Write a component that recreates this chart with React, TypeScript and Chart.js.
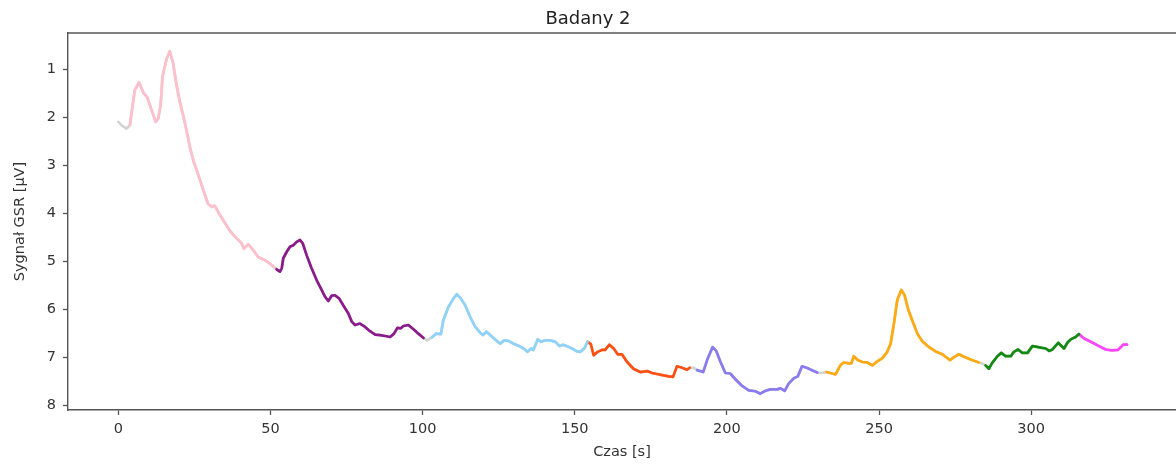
import React, { useEffect, useRef } from "react";
import { Chart, registerables } from "chart.js";

Chart.register(...registerables);

// Czas [s]
const czas: number[] = [
  0.0, 1.2, 2.7, 3.8, 4.6, 5.4, 6.8, 8.2, 9.5, 10.9, 12.3, 13.1, 13.9, 14.5, 15.9, 16.9, 18.0, 19.1, 20.2, 21.9,
  23.5, 24.6, 26.3, 27.9, 29.5, 30.7, 31.7, 33.4, 35.0, 36.7, 38.3, 40.5, 41.3, 42.7, 44.3, 46.0, 48.2, 49.8, 51.2, 52.0,
  53.1, 53.7, 54.2, 55.3, 56.4, 57.5, 58.6, 59.7, 60.6, 61.9, 63.5, 65.2, 66.8, 67.9, 69.0, 70.1, 71.2, 72.6, 73.9, 75.6,
  76.7, 77.8, 79.4, 81.1, 82.7, 84.4, 86.0, 87.7, 89.3, 90.6, 91.7, 92.8, 93.7, 95.3, 97.0, 98.6, 100.3, 101.4, 103.0, 104.4,
  106.0, 106.8, 108.5, 110.1, 111.2, 112.3, 114.0, 115.6, 117.3, 118.9, 119.8, 121.0, 122.2, 123.8, 125.5, 126.8, 128.2, 129.9, 131.5, 133.2,
  134.5, 135.6, 136.4, 137.8, 138.9, 140.3, 141.9, 143.6, 145.0, 146.1, 147.4, 149.1, 150.7, 151.8, 153.1, 154.2, 155.3, 156.2, 157.5, 158.9,
  160.0, 161.4, 162.8, 164.1, 165.5, 167.2, 169.3, 171.5, 173.8, 175.4, 177.0, 179.2, 180.9, 182.3, 183.6, 185.3, 186.9, 187.8, 189.1, 190.2,
  192.2, 193.5, 195.3, 196.5, 197.9, 199.5, 201.1, 202.8, 205.0, 207.2, 209.4, 211.0, 212.7, 214.3, 216.5, 217.6, 219.0, 220.3, 222.0, 223.3,
  224.7, 226.2, 228.0, 229.7, 231.0, 232.7, 234.0, 235.7, 237.3, 238.4, 240.1, 240.9, 241.7, 243.0, 244.5, 246.1, 247.8, 249.2, 251.1, 252.6,
  253.8, 254.9, 256.0, 257.3, 258.4, 259.5, 260.9, 262.6, 264.2, 266.4, 268.6, 270.8, 273.3, 274.9, 276.3, 277.9, 280.1, 282.8, 283.9, 285.0,
  286.1, 287.2, 288.9, 290.2, 291.6, 293.3, 294.3, 295.7, 297.1, 298.8, 300.4, 301.5, 303.1, 304.8, 305.9, 307.0, 307.8, 308.9, 309.7, 310.8,
  311.9, 313.0, 314.6, 315.7, 317.4, 319.6, 322.3, 324.5, 326.5, 328.5, 329.5, 330.2, 331.5,
];

// Sygnał GSR [µV]
const sygnal: number[] = [
  2.10, 2.18, 2.24, 2.17, 1.80, 1.44, 1.28, 1.49, 1.59, 1.85, 2.10, 2.03, 1.75, 1.16, 0.78, 0.63, 0.88, 1.33, 1.68, 2.13,
  2.62, 2.90, 3.21, 3.52, 3.81, 3.87, 3.85, 4.04, 4.20, 4.37, 4.49, 4.63, 4.74, 4.65, 4.77, 4.92, 4.98, 5.05, 5.13, 5.17,
  5.22, 5.15, 4.94, 4.81, 4.70, 4.67, 4.60, 4.56, 4.63, 4.88, 5.15, 5.40, 5.60, 5.74, 5.83, 5.72, 5.71, 5.78, 5.92, 6.09,
  6.26, 6.33, 6.30, 6.37, 6.46, 6.53, 6.54, 6.56, 6.58, 6.51, 6.39, 6.40, 6.35, 6.33, 6.42, 6.51, 6.60, 6.65, 6.59, 6.51,
  6.52, 6.23, 5.95, 5.78, 5.69, 5.76, 5.92, 6.16, 6.37, 6.49, 6.54, 6.47, 6.54, 6.63, 6.72, 6.65, 6.66, 6.72, 6.76, 6.82,
  6.89, 6.82, 6.85, 6.63, 6.68, 6.65, 6.65, 6.68, 6.77, 6.74, 6.77, 6.82, 6.88, 6.89, 6.82, 6.68, 6.73, 6.96, 6.89, 6.85,
  6.85, 6.74, 6.82, 6.94, 6.94, 7.10, 7.24, 7.31, 7.29, 7.33, 7.35, 7.38, 7.40, 7.41, 7.19, 7.22, 7.26, 7.22, 7.22, 7.27,
  7.31, 7.06, 6.79, 6.87, 7.10, 7.33, 7.34, 7.46, 7.60, 7.69, 7.71, 7.76, 7.70, 7.67, 7.67, 7.65, 7.70, 7.55, 7.44, 7.40,
  7.19, 7.22, 7.27, 7.32, 7.33, 7.31, 7.33, 7.36, 7.17, 7.11, 7.13, 7.13, 6.98, 7.06, 7.10, 7.11, 7.17, 7.10, 7.02, 6.90,
  6.72, 6.30, 5.81, 5.60, 5.71, 5.99, 6.23, 6.51, 6.67, 6.79, 6.88, 6.94, 7.06, 6.99, 6.94, 6.99, 7.05, 7.11, 7.13, 7.17,
  7.24, 7.12, 6.98, 6.91, 6.98, 6.98, 6.89, 6.84, 6.91, 6.91, 6.77, 6.78, 6.80, 6.82, 6.87, 6.84, 6.78, 6.70, 6.75, 6.82,
  6.70, 6.63, 6.58, 6.52, 6.61, 6.68, 6.77, 6.84, 6.86, 6.85, 6.79, 6.74, 6.74,
];

// Segment boundaries (seconds)
const segmentStart: number[] = [3.0, 52.0, 101.8, 154.2, 189.8, 232.5, 284.8, 315.7];
const segmentEnd: number[] = [51.3, 100.3, 154.2, 188.0, 229.9, 283.0, 315.7, 331.5];
const segmentColors: string[] = [
  "#ffc0cb",
  "#8b1a8b",
  "#8fd3fb",
  "#ff5010",
  "#8a7cf0",
  "#ffab0f",
  "#118a11",
  "#ff44ff",
];

const xTicks: number[] = [0, 50, 100, 150, 200, 250, 300];
const yTicks: number[] = [1, 2, 3, 4, 5, 6, 7, 8];

const FONT = "'DejaVu Sans', sans-serif";
const SPINE = "#555555";

export default function App() {
  const ref = useRef<HTMLCanvasElement | null>(null);

  useEffect(() => {
    const canvas = ref.current;
    if (!canvas) return;
    const points = czas.map((t, i) => ({ x: t, y: sygnal[i] }));
    const segDatasets = segmentStart.map((s, k) => ({
      data: points.filter((p) => p.x >= s - 1e-6 && p.x <= segmentEnd[k] + 1e-6),
      borderColor: segmentColors[k],
      borderWidth: 2.7,
      pointRadius: 0,
      tension: 0,
      borderCapStyle: "round" as const,
      borderJoinStyle: "round" as const,
      fill: false,
      order: 0,
    }));
    const topSpine = {
      id: "topSpine",
      afterDraw(chart: any) {
        const { ctx, chartArea } = chart;
        ctx.save();
        ctx.strokeStyle = SPINE;
        ctx.lineWidth = 1.4;
        ctx.beginPath();
        ctx.moveTo(chartArea.left, chartArea.top);
        ctx.lineTo(chartArea.right + 2, chartArea.top);
        ctx.stroke();
        ctx.restore();
      },
    };
    const chart = new Chart(canvas, {
      type: "line",
      data: {
        datasets: [
          ...segDatasets,
          {
            data: points,
            borderColor: "#d3d3d3",
            borderWidth: 2.7,
            pointRadius: 0,
            tension: 0,
            borderCapStyle: "round",
            borderJoinStyle: "round",
            fill: false,
            order: 1,
          },
        ],
      },
      options: {
        animation: false,
        responsive: false,
        layout: { padding: { left: 0, right: 0, top: 0, bottom: 0 } },
        plugins: {
          legend: { display: false },
          tooltip: { enabled: false },
          title: {
            display: true,
            text: "Badany 2",
            color: "#222222",
            font: { family: FONT, size: 18, weight: "normal" },
            padding: { top: 9, bottom: 2.4 },
          },
        },
        scales: {
          x: {
            type: "linear",
            min: -16.55,
            max: 347.6,
            afterFit(scale: any) {
              scale.height = 54;
            },
            afterBuildTicks(scale: any) {
              scale.ticks = xTicks.map((v) => ({ value: v }));
            },
            ticks: {
              color: "#333333",
              font: { family: FONT, size: 14.5 },
              padding: 6,
              maxRotation: 0,
              autoSkip: false,
            },
            grid: {
              drawOnChartArea: false,
              drawTicks: true,
              tickLength: 5,
              tickColor: SPINE,
              tickWidth: 1.3,
            },
            border: { display: true, color: SPINE, width: 1.4 },
            title: {
              display: true,
              text: "Czas [s]",
              color: "#333333",
              font: { family: FONT, size: 14.5 },
              padding: { top: 0, bottom: 3 },
            },
          },
          y: {
            type: "linear",
            reverse: true,
            min: 0.25,
            max: 8.1,
            afterFit(scale: any) {
              scale.width = 68;
            },
            afterBuildTicks(scale: any) {
              scale.ticks = yTicks.map((v) => ({ value: v }));
            },
            ticks: {
              color: "#333333",
              font: { family: FONT, size: 14.5 },
              padding: 7,
              autoSkip: false,
            },
            grid: {
              drawOnChartArea: false,
              drawTicks: true,
              tickLength: 5,
              tickColor: SPINE,
              tickWidth: 1.3,
            },
            border: { display: true, color: SPINE, width: 1.4 },
            title: {
              display: true,
              text: "Sygnał GSR [µV]",
              color: "#333333",
              font: { family: FONT, size: 14.5 },
              padding: { top: 12, bottom: 0 },
            },
          },
        },
      },
      plugins: [topSpine],
    });
    return () => chart.destroy();
  }, []);

  return (
    <div style={{ position: "fixed", left: 0, top: 0, width: 1176, height: 464, background: "#ffffff" }}>
      <canvas ref={ref} width={1176} height={464} style={{ width: 1176, height: 464, display: "block" }} />
    </div>
  );
}
